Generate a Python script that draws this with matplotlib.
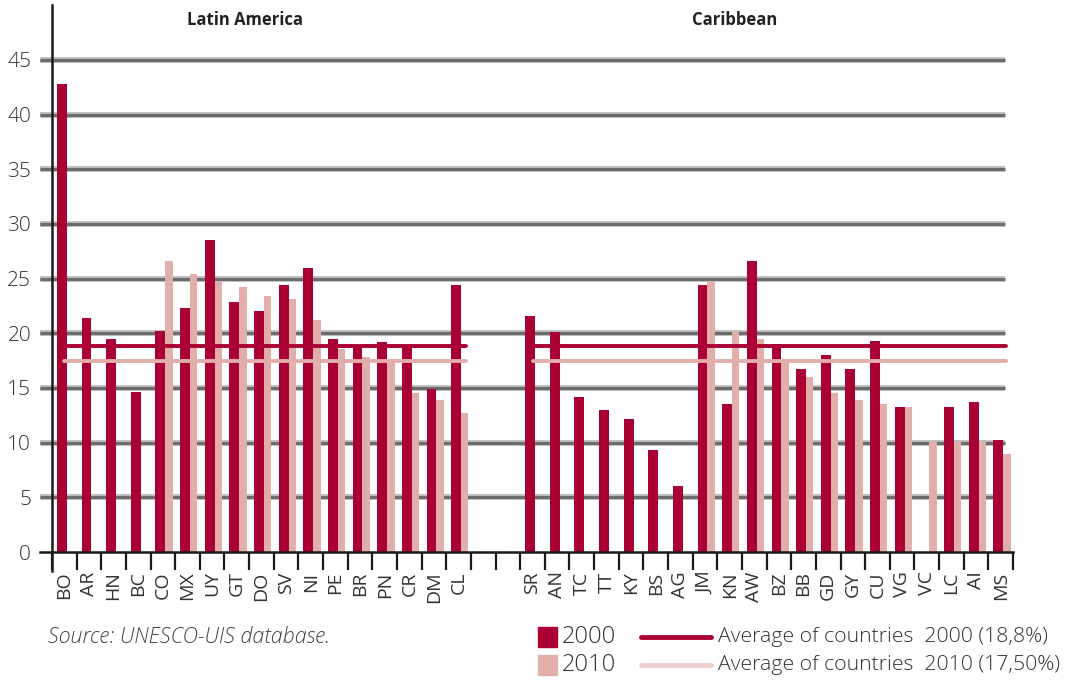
import matplotlib
matplotlib.use("Agg")
import matplotlib.pyplot as plt
from matplotlib.patches import Rectangle
from matplotlib.lines import Line2D
import numpy as np

# ---- data ----
latin_codes = ["BO", "AR", "HN", "BC", "CO", "MX", "UY", "GT", "DO", "SV", "NI",
               "PE", "BR", "PN", "CR", "DM", "CL"]
latin_2000 = [42.8, 21.4, 19.5, 14.6, 20.2, 22.3, 28.5, 22.9, 22.0, 24.4, 26.0,
              19.5, 18.8, 19.2, 18.8, 14.9, 24.4]
latin_2010 = [0, 0, 0, 0, 26.6, 25.4, 24.7, 24.2, 23.4, 23.1, 21.2,
              18.6, 17.8, 17.5, 14.5, 13.9, 12.7]

carib_codes = ["SR", "AN", "TC", "TT", "KY", "BS", "AG", "JM", "KN", "AW", "BZ",
               "BB", "GD", "GY", "CU", "VG", "VC", "LC", "AI", "MS"]
carib_2000 = [21.6, 20.1, 14.2, 13.0, 12.2, 9.3, 6.0, 24.4, 13.5, 26.6, 19.0,
              16.7, 18.0, 16.7, 19.3, 13.3, 0, 13.3, 13.7, 10.2]
carib_2010 = [0, 0, 0, 0, 0, 0, 0, 24.7, 20.1, 19.5, 17.3,
              16.0, 14.5, 13.9, 13.5, 13.3, 10.1, 10.1, 10.1, 9.0]

avg_2000 = 18.8
avg_2010 = 17.5
yticks = [0, 5, 10, 15, 20, 25, 30, 35, 40, 45]

RED = "#AA0033"
PINK = "#E2AEAA"
GRID = "#6c6c6c"
TXT = "#333333"
FAM = ["Open Sans", "DejaVu Sans"]

W, H = 1078, 680
fig = plt.figure(figsize=(W / 100, H / 100), dpi=100)
ax = fig.add_axes([52 / W, (H - 552) / H, 961 / W, 546.7 / H])

n_gap = 2
labels = latin_codes + [""] * n_gap + carib_codes
v2000 = latin_2000 + [0] * n_gap + carib_2000
v2010 = latin_2010 + [0] * n_gap + carib_2010
x = np.arange(len(labels))
mask = np.array([l != "" for l in labels])

ax.set_xlim(-0.5, len(labels) - 0.5)
ax.set_ylim(0, 50)

# grid lines (fuzzy gray)
xstart = -12 / 961
xend = (1005 - 52) / 961
for yv in yticks[1:]:
    ax.plot([xstart, xend], [yv, yv], transform=ax.get_yaxis_transform(),
            color="#bdbdbd", lw=4.2, solid_capstyle="butt", clip_on=False, zorder=1)
    ax.plot([xstart, xend], [yv, yv], transform=ax.get_yaxis_transform(),
            color=GRID, lw=2.2, solid_capstyle="butt", clip_on=False, zorder=1.1)
ax.plot([xstart, 1.0], [0, 0], transform=ax.get_yaxis_transform(),
        color="#1a1a1a", lw=1.8, clip_on=False, zorder=5)

# bars
b00 = np.array(v2000, dtype=float)
b10 = np.array(v2010, dtype=float)
ax.bar(x[mask] - 0.3, b00[mask], width=0.4, align="edge", color=RED, zorder=2)
ax.bar(x[mask] + 0.1, b10[mask], width=0.3, align="edge", color=PINK, zorder=2)

# averages
n_lat = len(latin_codes)
c0 = n_lat + n_gap
last = len(labels) - 1
ax.plot([0.0, n_lat - 1 + 0.32], [avg_2000, avg_2000], color=RED, lw=2.8,
        solid_capstyle="round", zorder=3)
ax.plot([0.0, n_lat - 1 + 0.32], [avg_2010, avg_2010], color=PINK, lw=2.8,
        solid_capstyle="round", zorder=3)
ax.plot([c0 + 0.1, last + 0.2], [avg_2000, avg_2000], color=RED, lw=2.8,
        solid_capstyle="round", zorder=3)
ax.plot([c0 + 0.0, last + 0.2], [avg_2010, avg_2010], color=PINK, lw=2.8,
        solid_capstyle="round", zorder=3)

# spines
for s in ["top", "right", "bottom"]:
    ax.spines[s].set_visible(False)
ax.spines["left"].set_color("#1a1a1a")
ax.spines["left"].set_linewidth(1.8)
ax.spines["left"].set_bounds(-1.7, 50)
ax.spines["left"].set_zorder(6)

# y ticks
ax.set_yticks(yticks)
ax.set_yticklabels([str(v) for v in yticks], fontsize=15, color=TXT,
                   family=FAM, fontweight="light")
ax.tick_params(axis="y", length=0, pad=15)

# x ticks: boundaries as major, labels at centres as minor
ax.set_xticks(np.arange(-0.5, len(labels), 1.0))
ax.set_xticklabels([])
ax.tick_params(axis="x", which="major", length=13, width=1.6, color="#1a1a1a",
               direction="out")
ax.set_xticks(x, minor=True)
ax.set_xticklabels(labels, minor=True, rotation=90, fontsize=14, color=TXT,
                   family=FAM)
ax.tick_params(axis="x", which="minor", length=0, pad=14)
for t in ax.get_xticklabels(minor=True):
    t.set_verticalalignment("top")

# region titles
fig.text(245 / W, 1 - 20 / H, "Latin America", ha="center", va="center",
         fontsize=12, fontweight="bold", color="#222222", family=FAM)
fig.text(735 / W, 1 - 20 / H, "Caribbean", ha="center", va="center",
         fontsize=12, fontweight="bold", color="#222222", family=FAM)

# source
fig.text(48 / W, 1 - 637 / H, "Source: UNESCO-UIS database.", ha="left", va="center",
         fontsize=15.5, style="italic", color="#444444", fontweight="light",
         family=FAM)

# legend (manual)
def fx(px):
    return px / W

def fy(py):
    return 1 - py / H

for py, col, yr, lab in [(637, RED, "2000", "Average of countries  2000 (18,8%)"),
                         (665, PINK, "2010", "Average of countries  2010 (17,50%)")]:
    fig.patches.append(Rectangle((fx(538), fy(py + 10)), 19 / W, 20 / H,
                                 transform=fig.transFigure, color=col))
    fig.text(fx(562), fy(py), yr, ha="left", va="center", fontsize=17,
             color=TXT, fontweight="light", family=FAM)
    lc = col if yr == "2000" else "#EFCCCA"
    fig.lines.append(Line2D([fx(641), fx(711)], [fy(py), fy(py)],
                            transform=fig.transFigure, color=lc, lw=3.5,
                            solid_capstyle="round"))
    fig.text(fx(718), fy(py), lab, ha="left", va="center", fontsize=15.3,
             color=TXT, fontweight="light", family=FAM)

fig.savefig("out.png", dpi=100)
